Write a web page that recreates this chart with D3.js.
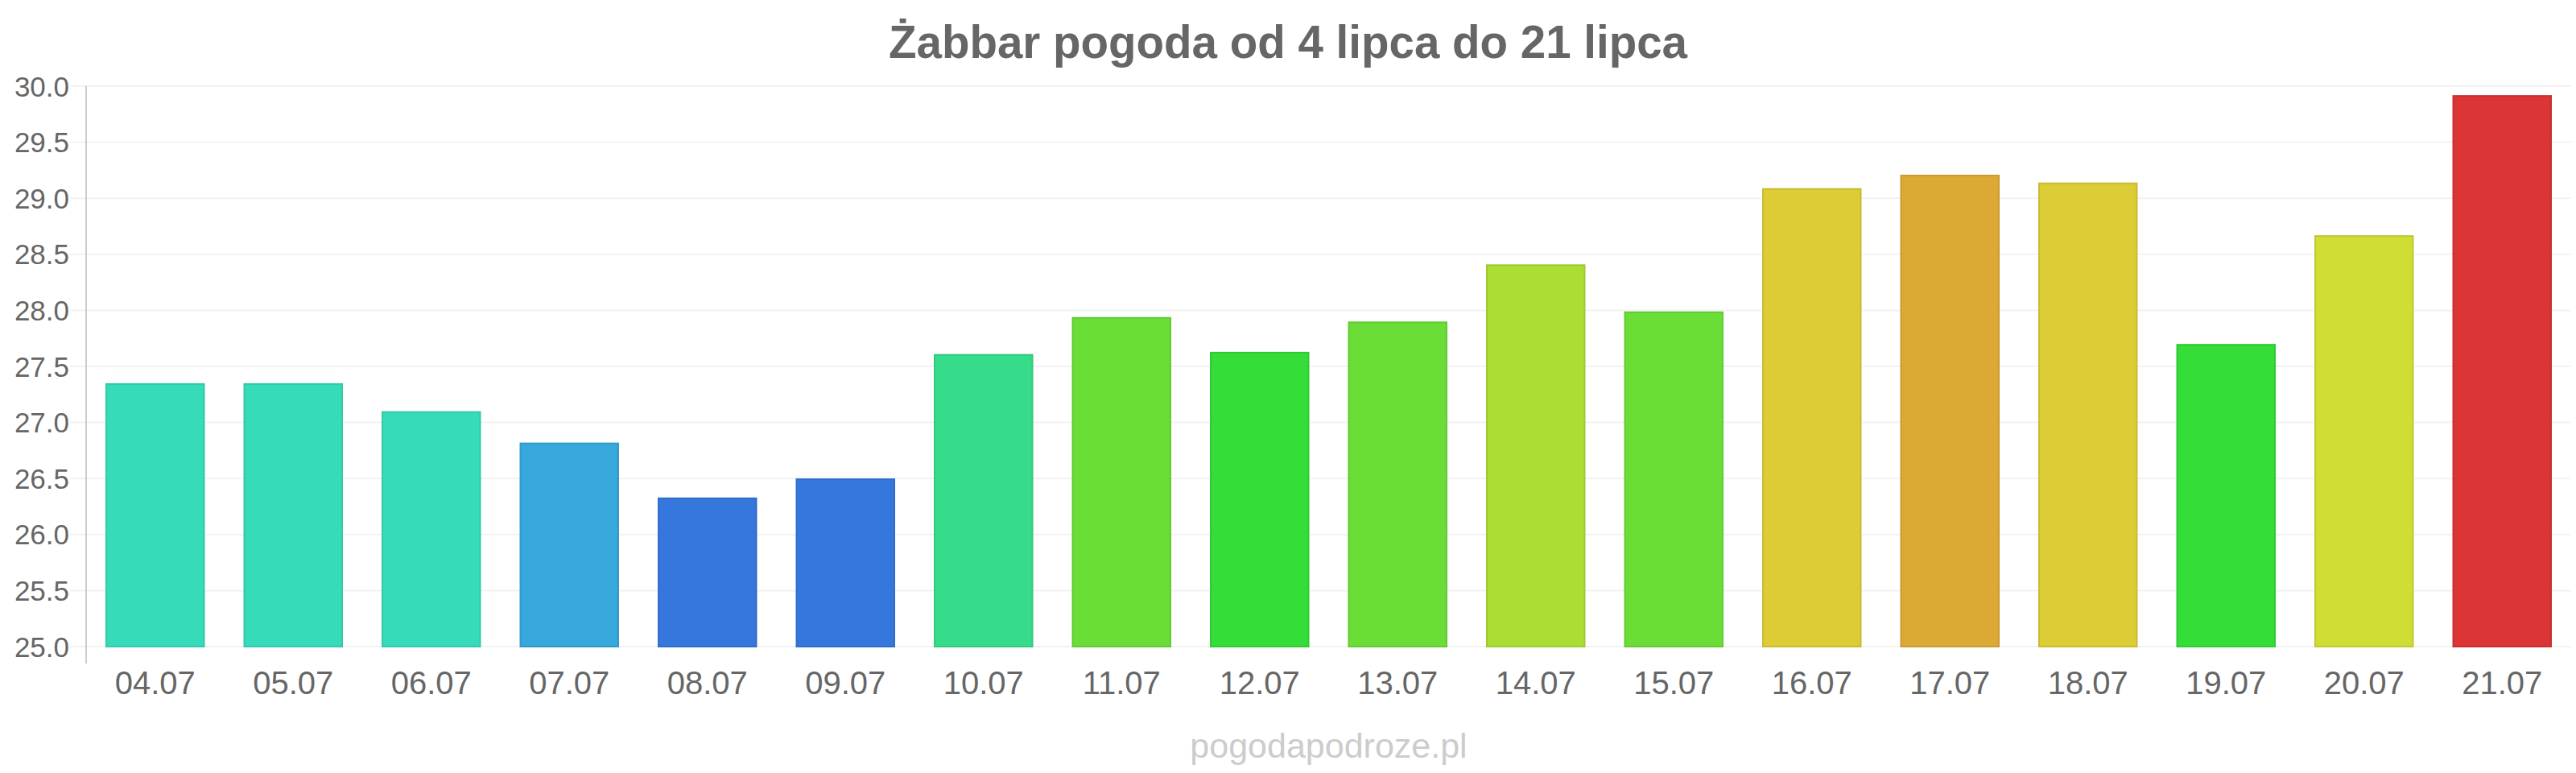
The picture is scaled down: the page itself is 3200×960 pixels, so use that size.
<!DOCTYPE html>
<html>
<head>
<meta charset="utf-8">
<script src="https://cdn.jsdelivr.net/npm/d3@7"></script>
<style>
  html, body { margin: 0; padding: 0; background: #fff; }
  svg { display: block; font-family: "Liberation Sans", Arial, sans-serif; }
</style>
</head>
<body>
<svg id="chart" width="3200" height="960"></svg>
<script>
const title = "Żabbar pogoda od 4 lipca do 21 lipca";
const footer = "pogodapodroze.pl";
const categories = ["04.07","05.07","06.07","07.07","08.07","09.07","10.07","11.07","12.07","13.07","14.07","15.07","16.07","17.07","18.07","19.07","20.07","21.07"];
const values = [27.35,27.35,27.10,26.82,26.33,26.50,27.61,27.94,27.63,27.90,28.41,27.99,29.09,29.21,29.14,27.70,28.67,29.92];
const colors = ["#36dcb9","#36dcb9","#36dcb9","#36a8db","#3577dc","#3577dc","#37dc8a","#6bdd37","#34dd38","#6bdd37","#acdd35","#6bdd37","#dccc35","#dca935","#dccc35","#34dd38","#cfdd35","#dc3535"];
const yTicks = [25.0,25.5,26.0,26.5,27.0,27.5,28.0,28.5,29.0,29.5,30.0];

const svg = d3.select("#chart");
const plot = {left: 107, right: 3194, top: 107, bottom: 803};

const x = d3.scaleBand().domain(categories).range([plot.left, plot.right]).paddingInner(0.28).paddingOuter(0.14);
const y = d3.scaleLinear().domain([25, 30]).range([plot.bottom, plot.top]);

// gridlines
svg.append("g").selectAll("line").data(yTicks).join("line")
  .attr("x1", plot.left - 20).attr("x2", plot.right)
  .attr("y1", d => y(d)).attr("y2", d => y(d))
  .attr("stroke", "#f2f2f2").attr("stroke-width", 2);

// y axis line
svg.append("line").attr("x1", plot.left).attr("x2", plot.left)
  .attr("y1", plot.top).attr("y2", plot.bottom + 21)
  .attr("stroke", "#bbbbbb").attr("stroke-width", 1.5);

// y labels
svg.append("g").selectAll("text").data(yTicks).join("text")
  .attr("x", 86).attr("y", d => y(d)).attr("dy", "0.36em")
  .attr("text-anchor", "end").attr("fill", "#666").attr("font-size", 35)
  .text(d => d.toFixed(1));

// bars
svg.append("g").selectAll("rect").data(values).join("rect")
  .attr("x", (d, i) => x(categories[i]) + 1)
  .attr("width", x.bandwidth() - 2)
  .attr("y", d => y(d) + 1)
  .attr("height", d => y(25) - y(d) - 1)
  .attr("fill", (d, i) => colors[i])
  .attr("stroke", (d, i) => d3.color(colors[i]).darker(0.25))
  .attr("stroke-width", 2);

// x labels
svg.append("g").selectAll("text").data(categories).join("text")
  .attr("x", d => x(d) + x.bandwidth() / 2).attr("y", 862)
  .attr("text-anchor", "middle").attr("fill", "#666").attr("font-size", 40)
  .text(d => d);

// title
svg.append("text").attr("x", 1600).attr("y", 72)
  .attr("text-anchor", "middle").attr("fill", "#666").attr("font-size", 56.5).attr("font-weight", "bold")
  .text(title);

// footer
svg.append("text").attr("x", (plot.left + plot.right) / 2).attr("y", 941)
  .attr("text-anchor", "middle").attr("fill", "#cccccc").attr("font-size", 43)
  .text(footer);
</script>
</body>
</html>
